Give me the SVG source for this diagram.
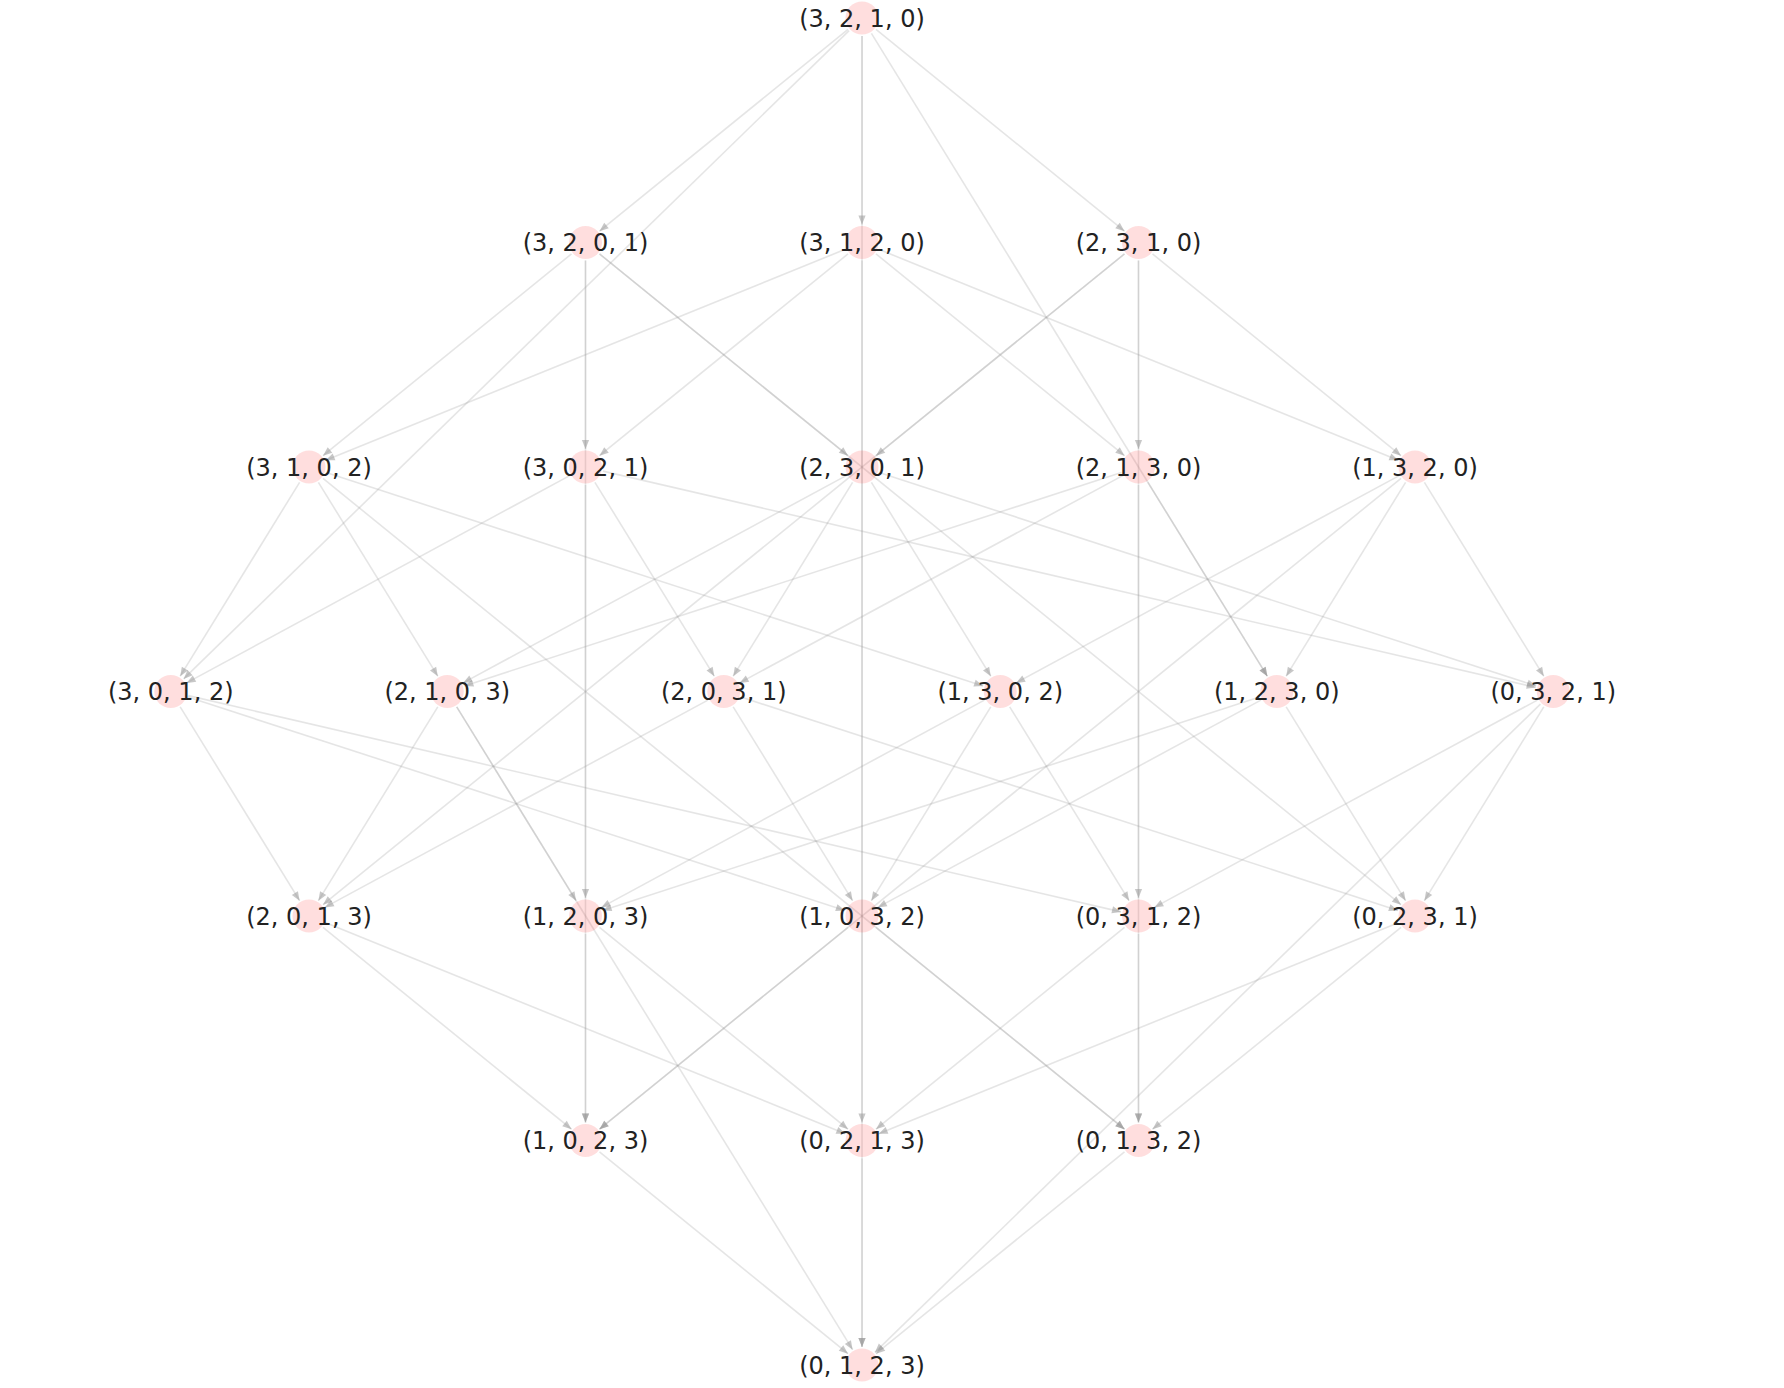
<svg xmlns="http://www.w3.org/2000/svg" width="1784" height="1388" viewBox="0 0 1784 1388">
<style>
.e{stroke:#999;stroke-opacity:0.26;stroke-width:1.6;fill:none;marker-end:url(#ah)}
.n circle{fill:#ff0000;fill-opacity:0.13}
.n text{font-family:"DejaVu Sans",sans-serif;font-size:24px;fill:#222;text-anchor:middle}
</style>
<defs>
<marker id="ah" viewBox="-10 -5 11 10" refX="0" refY="0" markerWidth="11" markerHeight="10" markerUnits="userSpaceOnUse" orient="auto">
<path d="M0,0 L-9,-3.6 L-9,3.6 Z" fill="#999" fill-opacity="0.55"/>
</marker>
</defs>
<rect width="1784" height="1388" fill="#fff"/>
<g id="connectors">
<line class="e" x1="876" y1="29.4" x2="1124.5" y2="231.2"/>
<line class="e" x1="871.4" y1="33.3" x2="1267.3" y2="676.2"/>
<line class="e" x1="862" y1="36" x2="862" y2="1122.5"/>
<line class="e" x1="862" y1="36" x2="862" y2="224.5"/>
<line class="e" x1="849.1" y1="30.6" x2="183.6" y2="678.9"/>
<line class="e" x1="848" y1="29.4" x2="599.5" y2="231.2"/>
<line class="e" x1="599.5" y1="253.9" x2="848" y2="455.7"/>
<line class="e" x1="599.5" y1="253.9" x2="1401" y2="904.7"/>
<line class="e" x1="585.5" y1="260.5" x2="585.5" y2="898"/>
<line class="e" x1="585.5" y1="260.5" x2="585.5" y2="449"/>
<line class="e" x1="571.5" y1="253.9" x2="323" y2="455.7"/>
<line class="e" x1="878.7" y1="249.3" x2="1398.3" y2="460.2"/>
<line class="e" x1="876" y1="253.9" x2="1124.5" y2="455.7"/>
<line class="e" x1="862" y1="260.5" x2="862" y2="1347"/>
<line class="e" x1="848" y1="253.9" x2="599.5" y2="455.7"/>
<line class="e" x1="845.3" y1="249.3" x2="325.7" y2="460.2"/>
<line class="e" x1="1152.5" y1="253.9" x2="1401" y2="455.7"/>
<line class="e" x1="1138.5" y1="260.5" x2="1138.5" y2="898"/>
<line class="e" x1="1138.5" y1="260.5" x2="1138.5" y2="449"/>
<line class="e" x1="1124.5" y1="253.9" x2="323" y2="904.7"/>
<line class="e" x1="1124.5" y1="253.9" x2="876" y2="455.7"/>
<line class="e" x1="326.1" y1="472.6" x2="983.1" y2="685.9"/>
<line class="e" x1="323" y1="478.4" x2="1124.5" y2="1129.2"/>
<line class="e" x1="318.4" y1="482.3" x2="437.8" y2="676.2"/>
<line class="e" x1="299.6" y1="482.3" x2="180.2" y2="676.2"/>
<line class="e" x1="603" y1="471.1" x2="1535.7" y2="687.4"/>
<line class="e" x1="594.9" y1="482.3" x2="714.3" y2="676.2"/>
<line class="e" x1="585.5" y1="485" x2="585.5" y2="1122.5"/>
<line class="e" x1="569.7" y1="475.6" x2="186.6" y2="682.9"/>
<line class="e" x1="879.1" y1="472.6" x2="1536.1" y2="685.9"/>
<line class="e" x1="871.4" y1="482.3" x2="990.8" y2="676.2"/>
<line class="e" x1="852.6" y1="482.3" x2="733.2" y2="676.2"/>
<line class="e" x1="846.2" y1="475.6" x2="463.1" y2="682.9"/>
<line class="e" x1="1147.9" y1="482.3" x2="1267.3" y2="676.2"/>
<line class="e" x1="1138.5" y1="485" x2="1138.5" y2="1122.5"/>
<line class="e" x1="1122.7" y1="475.6" x2="739.6" y2="682.9"/>
<line class="e" x1="1121.4" y1="472.6" x2="464.4" y2="685.9"/>
<line class="e" x1="1424.4" y1="482.3" x2="1543.8" y2="676.2"/>
<line class="e" x1="1405.6" y1="482.3" x2="1286.2" y2="676.2"/>
<line class="e" x1="1401" y1="478.4" x2="599.5" y2="1129.2"/>
<line class="e" x1="1399.2" y1="475.6" x2="1016.1" y2="682.9"/>
<line class="e" x1="188.3" y1="695.6" x2="1121" y2="911.9"/>
<line class="e" x1="187.9" y1="697.1" x2="844.9" y2="910.4"/>
<line class="e" x1="180.2" y1="706.8" x2="299.6" y2="900.7"/>
<line class="e" x1="456.7" y1="706.8" x2="576.1" y2="900.7"/>
<line class="e" x1="456.7" y1="706.8" x2="852.6" y2="1349.7"/>
<line class="e" x1="437.8" y1="706.8" x2="318.4" y2="900.7"/>
<line class="e" x1="740.9" y1="697.1" x2="1397.9" y2="910.4"/>
<line class="e" x1="733.2" y1="706.8" x2="852.6" y2="900.7"/>
<line class="e" x1="707.9" y1="700.1" x2="324.8" y2="907.4"/>
<line class="e" x1="1009.7" y1="706.8" x2="1129.1" y2="900.7"/>
<line class="e" x1="990.8" y1="706.8" x2="871.4" y2="900.7"/>
<line class="e" x1="984.4" y1="700.1" x2="601.3" y2="907.4"/>
<line class="e" x1="1286.2" y1="706.8" x2="1405.6" y2="900.7"/>
<line class="e" x1="1260.9" y1="700.1" x2="877.8" y2="907.4"/>
<line class="e" x1="1259.6" y1="697.1" x2="602.6" y2="910.4"/>
<line class="e" x1="1543.8" y1="706.8" x2="1424.4" y2="900.7"/>
<line class="e" x1="1540.4" y1="704.1" x2="874.9" y2="1352.4"/>
<line class="e" x1="1537.4" y1="700.1" x2="1154.3" y2="907.4"/>
<line class="e" x1="325.7" y1="922.8" x2="845.3" y2="1133.7"/>
<line class="e" x1="323" y1="927.4" x2="571.5" y2="1129.2"/>
<line class="e" x1="599.5" y1="927.4" x2="848" y2="1129.2"/>
<line class="e" x1="585.5" y1="934" x2="585.5" y2="1122.5"/>
<line class="e" x1="876" y1="927.4" x2="1124.5" y2="1129.2"/>
<line class="e" x1="848" y1="927.4" x2="599.5" y2="1129.2"/>
<line class="e" x1="1138.5" y1="934" x2="1138.5" y2="1122.5"/>
<line class="e" x1="1124.5" y1="927.4" x2="876" y2="1129.2"/>
<line class="e" x1="1401" y1="927.4" x2="1152.5" y2="1129.2"/>
<line class="e" x1="1398.3" y1="922.8" x2="878.7" y2="1133.7"/>
<line class="e" x1="599.5" y1="1151.9" x2="848" y2="1353.7"/>
<line class="e" x1="862" y1="1158.5" x2="862" y2="1347"/>
<line class="e" x1="1124.5" y1="1151.9" x2="876" y2="1353.7"/>
</g>
<g id="n3210" class="n"><circle cx="862" cy="18" r="16.5"/><text x="862" y="26.5">(3, 2, 1, 0)</text></g>
<g id="n3201" class="n"><circle cx="585.5" cy="242.5" r="16.5"/><text x="585.5" y="251">(3, 2, 0, 1)</text></g>
<g id="n3120" class="n"><circle cx="862" cy="242.5" r="16.5"/><text x="862" y="251">(3, 1, 2, 0)</text></g>
<g id="n2310" class="n"><circle cx="1138.5" cy="242.5" r="16.5"/><text x="1138.5" y="251">(2, 3, 1, 0)</text></g>
<g id="n3102" class="n"><circle cx="309" cy="467" r="16.5"/><text x="309" y="475.5">(3, 1, 0, 2)</text></g>
<g id="n3021" class="n"><circle cx="585.5" cy="467" r="16.5"/><text x="585.5" y="475.5">(3, 0, 2, 1)</text></g>
<g id="n2301" class="n"><circle cx="862" cy="467" r="16.5"/><text x="862" y="475.5">(2, 3, 0, 1)</text></g>
<g id="n2130" class="n"><circle cx="1138.5" cy="467" r="16.5"/><text x="1138.5" y="475.5">(2, 1, 3, 0)</text></g>
<g id="n1320" class="n"><circle cx="1415" cy="467" r="16.5"/><text x="1415" y="475.5">(1, 3, 2, 0)</text></g>
<g id="n3012" class="n"><circle cx="170.75" cy="691.5" r="16.5"/><text x="170.75" y="700">(3, 0, 1, 2)</text></g>
<g id="n2103" class="n"><circle cx="447.25" cy="691.5" r="16.5"/><text x="447.25" y="700">(2, 1, 0, 3)</text></g>
<g id="n2031" class="n"><circle cx="723.75" cy="691.5" r="16.5"/><text x="723.75" y="700">(2, 0, 3, 1)</text></g>
<g id="n1302" class="n"><circle cx="1000.25" cy="691.5" r="16.5"/><text x="1000.25" y="700">(1, 3, 0, 2)</text></g>
<g id="n1230" class="n"><circle cx="1276.75" cy="691.5" r="16.5"/><text x="1276.75" y="700">(1, 2, 3, 0)</text></g>
<g id="n0321" class="n"><circle cx="1553.25" cy="691.5" r="16.5"/><text x="1553.25" y="700">(0, 3, 2, 1)</text></g>
<g id="n2013" class="n"><circle cx="309" cy="916" r="16.5"/><text x="309" y="924.5">(2, 0, 1, 3)</text></g>
<g id="n1203" class="n"><circle cx="585.5" cy="916" r="16.5"/><text x="585.5" y="924.5">(1, 2, 0, 3)</text></g>
<g id="n1032" class="n"><circle cx="862" cy="916" r="16.5"/><text x="862" y="924.5">(1, 0, 3, 2)</text></g>
<g id="n0312" class="n"><circle cx="1138.5" cy="916" r="16.5"/><text x="1138.5" y="924.5">(0, 3, 1, 2)</text></g>
<g id="n0231" class="n"><circle cx="1415" cy="916" r="16.5"/><text x="1415" y="924.5">(0, 2, 3, 1)</text></g>
<g id="n1023" class="n"><circle cx="585.5" cy="1140.5" r="16.5"/><text x="585.5" y="1149">(1, 0, 2, 3)</text></g>
<g id="n0213" class="n"><circle cx="862" cy="1140.5" r="16.5"/><text x="862" y="1149">(0, 2, 1, 3)</text></g>
<g id="n0132" class="n"><circle cx="1138.5" cy="1140.5" r="16.5"/><text x="1138.5" y="1149">(0, 1, 3, 2)</text></g>
<g id="n0123" class="n"><circle cx="862" cy="1365" r="16.5"/><text x="862" y="1373.5">(0, 1, 2, 3)</text></g>
</svg>
